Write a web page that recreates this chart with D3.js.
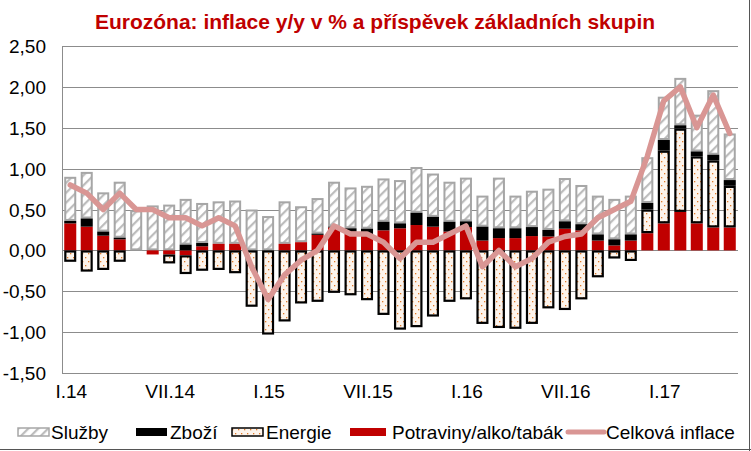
<!DOCTYPE html>
<html><head><meta charset="utf-8">
<script src="https://cdn.jsdelivr.net/npm/d3@7/dist/d3.min.js"></script>
<style>
html,body{margin:0;padding:0;background:#fff;}
svg{display:block;font-family:"Liberation Sans",Arial,sans-serif;}
</style></head><body>
<svg id="c" width="751" height="451"></svg>
<script>
const title = "Eurozóna: inflace y/y v % a příspěvek základních skupin";
const months = d3.range(41);
const xTickLabels = ["I.14","VII.14","I.15","VII.15","I.16","VII.16","I.17"];
const xTickIndex = [0,6,12,18,24,30,36];
const yTicks = [-1.5,-1,-0.5,0,0.5,1,1.5,2,2.5];
const seriesNames = ["Služby","Zboží","Energie","Potraviny/alko/tabák","Celková inflace"];

const potraviny = [0.33,0.29,0.18,0.135,0,-0.05,-0.05,-0.06,0.05,0.08,0.08,0,0,0.08,0.10,0.19,0.28,0.23,0.20,0.245,0.27,0.31,0.29,0.23,0.285,0.12,0.15,0.15,0.175,0.17,0.265,0.245,0.12,0.06,0.12,0.21,0.33,0.47,0.33,0.28,0.28];
const energie = [-0.14,-0.26,-0.24,-0.14,0,0,-0.11,-0.23,-0.25,-0.24,-0.28,-0.69,-1.03,-0.87,-0.65,-0.63,-0.52,-0.55,-0.61,-0.79,-0.97,-0.94,-0.81,-0.63,-0.60,-0.90,-0.95,-0.96,-0.90,-0.71,-0.73,-0.60,-0.33,-0.10,-0.13,0.29,0.89,1.02,0.82,0.82,0.51];
const zbozi = [0.03,0.10,0.05,0.02,0,0,0,0.07,0.04,0,0,0,0,0,0,0.015,0.01,0.04,0.065,0.105,0.06,0.15,0.12,0.12,0.07,0.17,0.12,0.12,0.11,0.08,0.09,0.075,0.075,0.075,0.075,0.08,0.13,0.04,0.06,0.07,0.07];
const sluzby = [0.54,0.57,0.48,0.685,0.49,0.55,0.56,0.56,0.49,0.52,0.53,0.50,0.42,0.52,0.44,0.435,0.55,0.50,0.525,0.53,0.53,0.56,0.53,0.49,0.535,0.38,0.62,0.40,0.445,0.505,0.53,0.48,0.475,0.495,0.475,0.56,0.53,0.58,0.45,0.79,0.57];
const celkova = [0.8,0.7,0.5,0.7,0.5,0.5,0.4,0.4,0.3,0.4,0.3,-0.2,-0.6,-0.3,-0.12,0.0,0.3,0.2,0.2,0.1,-0.1,0.1,0.1,0.2,0.3,-0.2,0.0,-0.2,-0.1,0.1,0.17,0.2,0.4,0.5,0.6,1.15,1.83,2.0,1.5,1.9,1.43];

const svg = d3.select("#c");
const L = 62, R = 738, T = 46, B = 373;
const x = d3.scaleBand().domain(months).range([L, R]).paddingInner(0.27).paddingOuter(0.135);
const y = d3.scaleLinear().domain([-1.5, 2.5]).range([B, T]);

const defs = svg.append("defs");
const hatch = defs.append("pattern").attr("id","hatch").attr("patternUnits","userSpaceOnUse")
  .attr("width",7).attr("height",7).attr("patternTransform","rotate(45)");
hatch.append("rect").attr("width",7).attr("height",7).attr("fill","#fff");
hatch.append("rect").attr("x",0).attr("y",0).attr("width",2.2).attr("height",7).attr("fill","#bdbdbd");
const dots = defs.append("pattern").attr("id","dots").attr("patternUnits","userSpaceOnUse")
  .attr("width",6).attr("height",8);
dots.append("rect").attr("width",6).attr("height",8).attr("fill","#fdf4ec");
dots.append("rect").attr("x",1).attr("y",1).attr("width",1.3).attr("height",1.3).attr("fill","#e07b2a");
dots.append("rect").attr("x",4).attr("y",5).attr("width",1.3).attr("height",1.3).attr("fill","#e07b2a");

// title
svg.append("text").attr("x",375).attr("y",29).attr("text-anchor","middle")
  .attr("font-size",21).attr("font-weight","bold").attr("fill","#c00000").text(title);

// gridlines
svg.append("g").selectAll("line").data(yTicks).join("line")
  .attr("x1",L).attr("x2",R).attr("y1",d=>Math.round(y(d))+0.5).attr("y2",d=>Math.round(y(d))+0.5)
  .attr("stroke","#8c8c8c").attr("stroke-width",1);
svg.append("line").attr("x1",L+0.5).attr("x2",L+0.5).attr("y1",T).attr("y2",B+1).attr("stroke","#8c8c8c");

// y labels
svg.append("g").selectAll("text").data(yTicks).join("text")
  .attr("x",46).attr("y",d=>y(d)+7).attr("text-anchor","end").attr("font-size",19).attr("fill","#000")
  .text(d=>d3.format(".2f")(d).replace(".",",").replace("−","-"));

// x labels
svg.append("g").selectAll("text").data(xTickIndex).join("text")
  .attr("x",(d)=>x(d)+x.bandwidth()/2+1).attr("y",398).attr("text-anchor","middle").attr("font-size",19)
  .text((d,i)=>xTickLabels[i]);

// stacked bars
const table = months.map(i=>({i, pot:potraviny[i], ene:energie[i], zbo:zbozi[i], slu:sluzby[i]}));
const keys = ["pot","ene","zbo","slu"];
const stack = d3.stack().keys(keys).offset(d3.stackOffsetDiverging)(table);
const styles = {
  pot:{fill:"#c00000",stroke:"none",sw:0},
  ene:{fill:"url(#dots)",stroke:"#000",sw:2.2},
  zbo:{fill:"#000",stroke:"none",sw:0},
  slu:{fill:"url(#hatch)",stroke:"#a6a6a6",sw:2}
};
const drawOrder = ["slu","pot","zbo","ene"];
drawOrder.forEach(k=>{
  const s = stack.find(t=>t.key===k);
  const st = styles[k];
  svg.append("g").selectAll("rect").data(s.filter(d=>Math.abs(d[1]-d[0])>0.001)).join("rect")
    .attr("x",d=>x(d.data.i)+(st.sw?st.sw/2:0))
    .attr("width",x.bandwidth()-(st.sw?st.sw:0))
    .attr("y",d=>y(Math.max(d[0],d[1]))+(st.sw?st.sw/2:0))
    .attr("height",d=>Math.max(0,Math.abs(y(d[0])-y(d[1]))-(st.sw?st.sw:0)))
    .attr("fill",st.fill).attr("stroke",st.stroke).attr("stroke-width",st.sw);
});

// line
const line = d3.line().x((d,i)=>x(i)+x.bandwidth()/2).y(d=>y(d));
svg.append("path").datum(celkova).attr("d",line).attr("fill","none")
  .attr("stroke","#d99694").attr("stroke-width",5.5).attr("stroke-linejoin","round").attr("stroke-linecap","round");

// legend
const ly = 432;
const lg = svg.append("g");
const items = [
  {sx:18, tx:51, type:"slu"},
  {sx:136, tx:170, type:"zbo"},
  {sx:232, tx:266, type:"ene"},
  {sx:350, tx:392, type:"pot"},
  {sx:568, tx:606, type:"line"}
];
items.forEach((it,i)=>{
  if(it.type==="line"){
    lg.append("line").attr("x1",it.sx).attr("x2",it.sx+36).attr("y1",ly).attr("y2",ly)
      .attr("stroke","#d99694").attr("stroke-width",5).attr("stroke-linecap","round");
  } else {
    const st = styles[it.type];
    const w = it.type==="pot"?36:31;
    lg.append("rect").attr("x",it.sx).attr("y",ly-4).attr("width",w).attr("height",8)
      .attr("fill",st.fill).attr("stroke",st.stroke==="none"?"none":st.stroke).attr("stroke-width",st.sw?1.5:0);
  }
  lg.append("text").attr("x",it.tx).attr("y",ly+7).attr("font-size",19).text(seriesNames[i]);
});

// outer border (right & bottom)
svg.append("line").attr("x1",749.5).attr("x2",749.5).attr("y1",0).attr("y2",451).attr("stroke","#555");
svg.append("line").attr("x1",0).attr("x2",751).attr("y1",449.5).attr("y2",449.5).attr("stroke","#555");
</script>
</body></html>
